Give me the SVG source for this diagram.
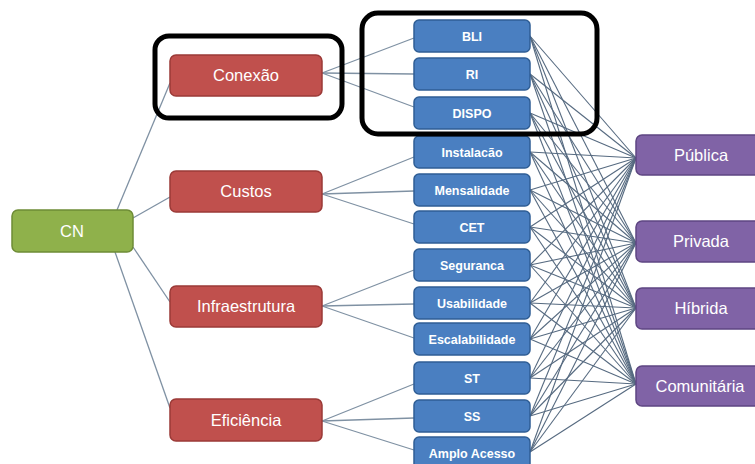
<svg xmlns="http://www.w3.org/2000/svg" width="755" height="464" viewBox="0 0 755 464">
<style>
.g{fill:#8fb14b;stroke:#6e8c36;stroke-width:1.5}
.r{fill:#c0504d;stroke:#9b3a37;stroke-width:1.5}
.b{fill:#4a7fc1;stroke:#2f5e95;stroke-width:1.5}
.p{fill:#8063a6;stroke:#5e4682;stroke-width:1.5}
.t{font-family:"Liberation Sans",Arial,sans-serif;fill:#fff;text-anchor:middle}
.big{font-size:16.5px}
.sm{font-size:12.5px;font-weight:bold}
.hl{fill:none;stroke:#000;stroke-width:5}
#connectors line{stroke:#7f91a3;stroke-width:1.3}
#cross line{stroke:#566a80;stroke-width:1.1}
</style>
<g id="connectors">
<line x1="117" y1="210" x2="170" y2="83"/>
<line x1="133" y1="218" x2="170" y2="197"/>
<line x1="133" y1="247" x2="170" y2="302"/>
<line x1="115" y1="252" x2="170" y2="408"/>
<line x1="322" y1="73" x2="414" y2="38"/>
<line x1="322" y1="73" x2="414" y2="74"/>
<line x1="322" y1="73" x2="414" y2="107"/>
<line x1="322" y1="194" x2="414" y2="157"/>
<line x1="322" y1="194" x2="414" y2="191"/>
<line x1="322" y1="194" x2="414" y2="224"/>
<line x1="322" y1="306" x2="414" y2="270"/>
<line x1="322" y1="306" x2="414" y2="304"/>
<line x1="322" y1="306" x2="414" y2="338"/>
<line x1="322" y1="421" x2="414" y2="384"/>
<line x1="322" y1="421" x2="414" y2="418"/>
<line x1="322" y1="421" x2="414" y2="450"/>
<g id="cross">
<line x1="530" y1="36" x2="636" y2="158"/><line x1="530" y1="36" x2="636" y2="243"/><line x1="530" y1="36" x2="636" y2="308"/><line x1="530" y1="36" x2="636" y2="384"/>
<line x1="530" y1="74" x2="636" y2="158"/><line x1="530" y1="74" x2="636" y2="243"/><line x1="530" y1="74" x2="636" y2="308"/><line x1="530" y1="74" x2="636" y2="384"/>
<line x1="530" y1="113" x2="636" y2="158"/><line x1="530" y1="113" x2="636" y2="243"/><line x1="530" y1="113" x2="636" y2="308"/><line x1="530" y1="113" x2="636" y2="384"/>
<line x1="530" y1="152" x2="636" y2="158"/><line x1="530" y1="152" x2="636" y2="243"/><line x1="530" y1="152" x2="636" y2="308"/><line x1="530" y1="152" x2="636" y2="384"/>
<line x1="530" y1="190" x2="636" y2="158"/><line x1="530" y1="190" x2="636" y2="243"/><line x1="530" y1="190" x2="636" y2="308"/><line x1="530" y1="190" x2="636" y2="384"/>
<line x1="530" y1="227" x2="636" y2="158"/><line x1="530" y1="227" x2="636" y2="243"/><line x1="530" y1="227" x2="636" y2="308"/><line x1="530" y1="227" x2="636" y2="384"/>
<line x1="530" y1="265" x2="636" y2="158"/><line x1="530" y1="265" x2="636" y2="243"/><line x1="530" y1="265" x2="636" y2="308"/><line x1="530" y1="265" x2="636" y2="384"/>
<line x1="530" y1="303" x2="636" y2="158"/><line x1="530" y1="303" x2="636" y2="243"/><line x1="530" y1="303" x2="636" y2="308"/><line x1="530" y1="303" x2="636" y2="384"/>
<line x1="530" y1="339" x2="636" y2="158"/><line x1="530" y1="339" x2="636" y2="243"/><line x1="530" y1="339" x2="636" y2="308"/><line x1="530" y1="339" x2="636" y2="384"/>
<line x1="530" y1="378" x2="636" y2="158"/><line x1="530" y1="378" x2="636" y2="243"/><line x1="530" y1="378" x2="636" y2="308"/><line x1="530" y1="378" x2="636" y2="384"/>
<line x1="530" y1="416" x2="636" y2="158"/><line x1="530" y1="416" x2="636" y2="243"/><line x1="530" y1="416" x2="636" y2="308"/><line x1="530" y1="416" x2="636" y2="384"/>
<line x1="530" y1="452" x2="636" y2="158"/><line x1="530" y1="452" x2="636" y2="243"/><line x1="530" y1="452" x2="636" y2="308"/><line x1="530" y1="452" x2="636" y2="384"/>
</g>
</g>
<g id="CN"><rect class="g" x="12" y="210" width="121" height="42" rx="6"/><text class="t big" x="72" y="237">CN</text></g>
<g id="Conexao"><rect class="r" x="170" y="55" width="152" height="41" rx="6"/><text class="t big" x="246" y="81">Conexão</text></g>
<g id="Custos"><rect class="r" x="170" y="171" width="152" height="41" rx="6"/><text class="t big" x="246" y="197">Custos</text></g>
<g id="Infraestrutura"><rect class="r" x="170" y="286" width="152" height="41" rx="6"/><text class="t big" x="246" y="312">Infraestrutura</text></g>
<g id="Eficiencia"><rect class="r" x="170" y="399" width="152" height="42" rx="6"/><text class="t big" x="246" y="426">Eficiência</text></g>
<g id="BLI"><rect class="b" x="414" y="20" width="116" height="32" rx="5"/><text class="t sm" x="472" y="41">BLI</text></g>
<g id="RI"><rect class="b" x="414" y="58" width="116" height="32" rx="5"/><text class="t sm" x="472" y="79">RI</text></g>
<g id="DISPO"><rect class="b" x="414" y="97" width="116" height="32" rx="5"/><text class="t sm" x="472" y="118">DISPO</text></g>
<g id="Instalacao"><rect class="b" x="414" y="136" width="116" height="32" rx="5"/><text class="t sm" x="472" y="157">Instalacão</text></g>
<g id="Mensalidade"><rect class="b" x="414" y="174" width="116" height="32" rx="5"/><text class="t sm" x="472" y="195">Mensalidade</text></g>
<g id="CET"><rect class="b" x="414" y="211" width="116" height="32" rx="5"/><text class="t sm" x="472" y="232">CET</text></g>
<g id="Seguranca"><rect class="b" x="414" y="249" width="116" height="32" rx="5"/><text class="t sm" x="472" y="270">Seguranca</text></g>
<g id="Usabilidade"><rect class="b" x="414" y="287" width="116" height="32" rx="5"/><text class="t sm" x="472" y="308">Usabilidade</text></g>
<g id="Escalabilidade"><rect class="b" x="414" y="323" width="116" height="32" rx="5"/><text class="t sm" x="472" y="344">Escalabilidade</text></g>
<g id="ST"><rect class="b" x="414" y="362" width="116" height="32" rx="5"/><text class="t sm" x="472" y="383">ST</text></g>
<g id="SS"><rect class="b" x="414" y="400" width="116" height="32" rx="5"/><text class="t sm" x="472" y="421">SS</text></g>
<g id="AmploAcesso"><rect class="b" x="414" y="437" width="116" height="34" rx="5"/><text class="t sm" x="472" y="458">Amplo Acesso</text></g>
<g id="Publica"><rect class="p" x="636" y="135" width="130" height="40" rx="6"/><text class="t big" x="701" y="161">Pública</text></g>
<g id="Privada"><rect class="p" x="636" y="221" width="130" height="41" rx="6"/><text class="t big" x="701" y="247">Privada</text></g>
<g id="Hibrida"><rect class="p" x="636" y="288" width="130" height="41" rx="6"/><text class="t big" x="701" y="314">Híbrida</text></g>
<g id="Comunitaria"><rect class="p" x="636" y="366" width="130" height="40" rx="6"/><text class="t big" x="700" y="392">Comunitária</text></g>
<g id="highlights">
<rect class="hl" x="155" y="36" width="187" height="82" rx="14"/>
<rect class="hl" x="362" y="13" width="235" height="121" rx="16"/>
</g>
</svg>
